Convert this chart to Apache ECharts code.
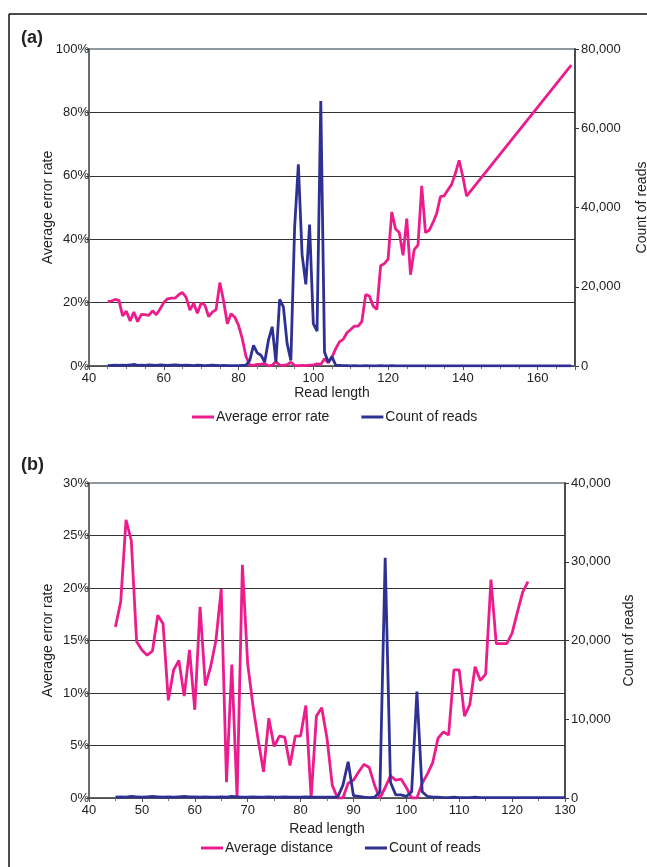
<!DOCTYPE html>
<html>
<head>
<meta charset="utf-8">
<script src="https://cdn.jsdelivr.net/npm/echarts@6/dist/echarts.min.js"></script>
<style>
  html, body { margin: 0; padding: 0; background: #fff; }
  #chart { width: 647px; height: 867px; }
</style>
</head>
<body>
<div id="chart"></div>
<script>
// panel (a): read lengths and values
const lenA = [45, 46, 47, 48, 49, 50, 51, 52, 53, 54, 55, 56, 57, 58, 59, 60, 61, 62, 63, 64,
  65, 66, 67, 68, 69, 70, 71, 72, 73, 74, 75, 76, 77, 78, 79, 80, 81, 82, 83, 84,
  85, 86, 87, 88, 89, 90, 91, 92, 93, 94, 95, 96, 97, 98, 99, 100, 101, 102, 103, 104,
  105, 106, 107, 108, 109, 110, 111, 112, 113, 114, 115, 116, 117, 118, 119, 120, 121, 122, 123, 124,
  125, 126, 127, 128, 129, 130, 131, 132, 133, 134, 135, 136, 137, 138, 139, 140, 141, 142, 143, 144,
  145, 146, 147, 148, 149, 150, 151, 152, 153, 154, 155, 156, 157, 158, 159, 160, 161, 162, 163, 164,
  165, 166, 167, 168, 169]
const errRateA = [20.3, 20.5, 21.0, 20.7, 15.8, 17.3, 14.2, 17.0, 14.0, 16.3,
  16.2, 16.0, 17.4, 16.2, 18.0, 20.0, 21.2, 21.4, 21.4, 22.5,
  23.2, 21.6, 17.6, 19.8, 16.6, 19.9, 19.2, 15.6, 17.0, 17.8,
  26.3, 20.5, 13.3, 16.5, 15.4, 12.8, 8.6, 3.0, 0.3, 0.2,
  0.5, 0.6, 0.8, 0.0, 0.3, 1.3, 0.3, 0.2, 0.4, 1.2,
  0.2, 0.1, 0.2, 0.1, 0.3, 0.3, 0.7, 0.5, 2.3, 1.0,
  2.8, 5.5, 7.6, 8.4, 10.5, 11.5, 12.6, 12.6, 14.1, 22.5,
  22.1, 18.9, 17.8, 31.6, 32.3, 33.7, 48.6, 43.2, 42.1, 34.9,
  46.5, 28.8, 36.7, 38.1, 56.8, 42.1, 42.8, 45.2, 48.1, 53.4,
  53.7, 55.5, 57.3, 60.7, 64.9, 59.7, 53.6, null, null, null,
  null, null, null, null, null, null, null, null, null, null,
  null, null, null, null, null, null, null, null, null, null,
  null, null, null, null, 94.9]
const countA = [100, 150, 200, 150, 200, 150, 250, 400, 150, 200,
  150, 250, 200, 150, 250, 200, 150, 200, 250, 200,
  150, 200, 150, 100, 200, 150, 100, 150, 200, 150,
  100, 150, 100, 100, 100, 100, 150, 200, 1400, 5200,
  3300, 2700, 1000, 6500, 9900, 1000, 16800, 14900, 5600, 1400,
  34900, 50900, 28100, 20600, 35700, 10700, 8800, 66900, 3500, 1000,
  2300, 200, 150, 100, 100, 50, 100, 50, 50, 100,
  50, 50, 50, 100, 50, 50, 100, 50, 50, 50,
  50, 50, 50, 50, 50, 50, 50, 50, 50, 50,
  50, 50, 50, 50, 50, 50, 50, 50, 50, 50,
  50, 50, 50, 50, 50, 50, 50, 50, 50, 50,
  50, 50, 50, 50, 50, 50, 50, 50, 50, 50,
  50, 50, 50, 50, 50]

// panel (b)
const lenB = [45, 46, 47, 48, 49, 50, 51, 52, 53, 54, 55, 56, 57, 58, 59, 60, 61, 62, 63, 64,
  65, 66, 67, 68, 69, 70, 71, 72, 73, 74, 75, 76, 77, 78, 79, 80, 81, 82, 83, 84,
  85, 86, 87, 88, 89, 90, 91, 92, 93, 94, 95, 96, 97, 98, 99, 100, 101, 102, 103, 104,
  105, 106, 107, 108, 109, 110, 111, 112, 113, 114, 115, 116, 117, 118, 119, 120, 121, 122, 123, 124,
  125, 126, 127, 128, 129, 130]
const distB = [16.3, 18.7, 26.5, 24.5, 14.9, 14.1, 13.6, 14.0, 17.4, 16.6,
  9.3, 12.2, 13.1, 9.7, 14.1, 8.4, 18.2, 10.7, 12.5, 15.0,
  19.9, 1.5, 12.7, 0.0, 22.2, 12.8, 8.8, 5.5, 2.5, 7.6,
  4.9, 5.9, 5.8, 3.1, 5.9, 5.9, 8.8, 0.0, 7.8, 8.6,
  5.7, 1.2, 0.0, 0.0, 1.4, 1.7, 2.5, 3.2, 2.9, 1.2,
  0.0, 1.0, 2.1, 1.7, 1.8, 1.0, 0.0, 0.0, 1.4, 2.3,
  3.4, 5.7, 6.3, 6.0, 12.2, 12.2, 7.8, 8.9, 12.5, 11.2,
  11.8, 20.8, 14.7, 14.7, 14.7, 15.7, 17.7, 19.6, 20.6]
const countB = [100, 150, 100, 200, 150, 100, 150, 200, 150, 100,
  150, 100, 150, 200, 150, 150, 100, 150, 100, 100,
  150, 100, 200, 150, 100, 100, 150, 100, 100, 150,
  100, 100, 150, 100, 100, 100, 150, 100, 100, 100,
  100, 100, 100, 1600, 4600, 300, 200, 100, 50, 100,
  800, 30500, 2000, 400, 400, 200, 800, 13500, 800, 200,
  100, 100, 50, 50, 100, 50, 50, 50, 100, 50,
  50, 50, 50, 50, 50, 50, 50, 50, 50, 50,
  50, 50, 50, 50, 50, 50]

const pink = '#ec1c8c'
const navy = '#2e3192'
const font = '"Liberation Sans", Arial, Helvetica, sans-serif'

function pairs (xs, ys) {
  return xs.map((x, i) => [x, ys[i] === undefined ? null : ys[i]])
}
function comma (v) {
  return String(v).replace(/\B(?=(\d{3})+(?!\d))/g, ',')
}

function xAxisOpt (grid, min, max, step, minorSplit, nameGap) {
  return {
    type: 'value',
    gridIndex: grid,
    min: min,
    max: max,
    interval: step,
    name: 'Read length',
    nameLocation: 'middle',
    nameGap: nameGap,
    nameMoveOverlap: false,
    nameTextStyle: { color: '#222', fontSize: 14, fontFamily: font },
    axisLine: { show: true, lineStyle: { color: '#555', width: 1.5 } },
    axisTick: { show: true, length: 4, lineStyle: { color: '#555' } },
    minorTick: { show: true, splitNumber: minorSplit, length: 3, lineStyle: { color: '#777' } },
    axisLabel: { color: '#222', fontSize: 13, fontFamily: font, margin: 6, showMaxLabel: max % step === min % step },
    splitLine: { show: false }
  }
}

function leftAxisOpt (grid, max, step) {
  return {
    type: 'value',
    gridIndex: grid,
    min: 0,
    max: max,
    interval: step,
    name: 'Average error rate',
    nameLocation: 'middle',
    nameRotate: 90,
    nameGap: 34,
    nameMoveOverlap: false,
    nameTextStyle: { color: '#222', fontSize: 14, fontFamily: font },
    axisLine: { show: true, lineStyle: { color: '#666d73', width: 2 } },
    axisTick: { show: true, length: 3, lineStyle: { color: '#444' } },
    axisLabel: { color: '#222', fontSize: 13, fontFamily: font, margin: 0, formatter: '{value}%' },
    splitLine: { show: true, showMaxLine: false, lineStyle: { color: '#333', width: 1 } }
  }
}

function rightAxisOpt (grid, max, step, nameGap) {
  return {
    type: 'value',
    gridIndex: grid,
    position: 'right',
    min: 0,
    max: max,
    interval: step,
    name: 'Count of reads',
    nameLocation: 'middle',
    nameRotate: 90,
    nameGap: nameGap,
    nameMoveOverlap: false,
    nameTextStyle: { color: '#222', fontSize: 14, fontFamily: font },
    axisLine: { show: true, lineStyle: { color: '#333', width: 1.5 } },
    axisTick: { show: true, length: 4, lineStyle: { color: '#333' } },
    axisLabel: { color: '#222', fontSize: 13, fontFamily: font, margin: 6, formatter: comma },
    splitLine: { show: false }
  }
}

function lineSeries (name, x, yIndex, data, color) {
  return {
    name: name,
    type: 'line',
    xAxisIndex: x,
    yAxisIndex: yIndex,
    data: data,
    symbol: 'none',
    connectNulls: true,
    lineStyle: { color: color, width: 2.8 },
    itemStyle: { color: color }
  }
}

const legendStyle = {
  icon: 'rect',
  itemWidth: 22,
  itemHeight: 3,
  itemGap: 32,
  textStyle: { color: '#222', fontSize: 14, fontFamily: font, padding: [0, 0, 0, -3] }
}

const option = {
  animation: false,
  backgroundColor: '#fff',
  grid: [
    { left: 89, top: 49, width: 486, height: 317, containLabel: false, outerBoundsMode: 'none', show: true, borderColor: '#8f989f', borderWidth: 2 },
    { left: 89, top: 483, width: 476, height: 315, containLabel: false, outerBoundsMode: 'none', show: true, borderColor: '#8f989f', borderWidth: 2 }
  ],
  xAxis: [
    xAxisOpt(0, 40, 170, 20, 4, 20),
    xAxisOpt(1, 40, 130, 10, 2, 24)
  ],
  yAxis: [
    leftAxisOpt(0, 100, 20),
    rightAxisOpt(0, 80000, 20000, 60),
    leftAxisOpt(1, 30, 5),
    rightAxisOpt(1, 40000, 10000, 57)
  ],
  legend: [
    Object.assign({ data: ['Average error rate', 'Count of reads'], left: 187, top: 405 }, legendStyle),
    Object.assign({ data: ['Average distance', 'Count of reads'], left: 196, top: 836 }, legendStyle)
  ],
  graphic: [
    { type: 'line', shape: { x1: 9, y1: 14, x2: 647, y2: 14 }, style: { stroke: '#111', lineWidth: 1.5 } },
    { type: 'line', shape: { x1: 9, y1: 14, x2: 9, y2: 867 }, style: { stroke: '#111', lineWidth: 1.5 } },
    { type: 'text', left: 21, top: 29, style: { text: '(a)', fill: '#222', font: 'bold 18px ' + font } },
    { type: 'text', left: 21, top: 456, style: { text: '(b)', fill: '#222', font: 'bold 18px ' + font } }
  ],
  series: [
    lineSeries('Average error rate', 0, 0, pairs(lenA, errRateA), pink),
    lineSeries('Count of reads', 0, 1, pairs(lenA, countA), navy),
    lineSeries('Average distance', 1, 2, pairs(lenB, distB), pink),
    lineSeries('Count of reads', 1, 3, pairs(lenB, countB), navy)
  ]
}

const myChart = echarts.init(document.getElementById('chart'))
myChart.setOption(option)
</script>
</body>
</html>
